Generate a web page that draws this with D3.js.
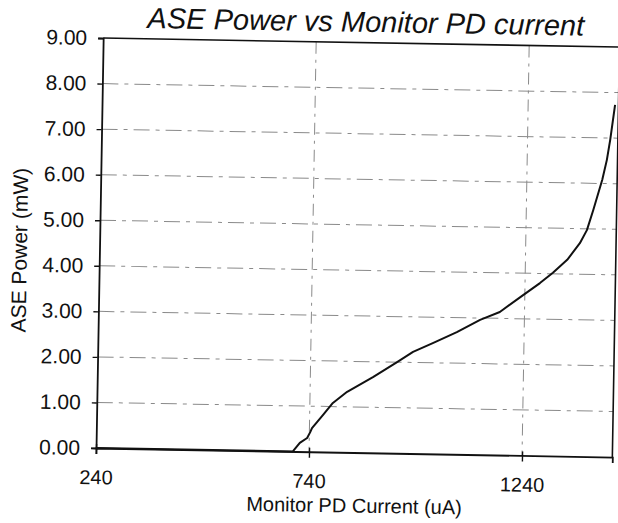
<!DOCTYPE html>
<html>
<head>
<meta charset="utf-8">
<script src="https://cdn.jsdelivr.net/npm/d3@7"></script>
<style>
  html, body { margin: 0; padding: 0; background: #fff; }
  svg { display: block; }
  text { font-family: "Liberation Sans", Arial, sans-serif; fill: #111; }
</style>
</head>
<body>
<svg id="chart" width="618" height="523"></svg>
<script>
// ---- data ----
const currentUA = [240, 702, 718, 735, 742, 746, 771, 794, 827, 887, 943, 980, 1026, 1082, 1136, 1182, 1236, 1275, 1305, 1338, 1367, 1383, 1397, 1417, 1427, 1434, 1444];
const asePowerMW = [0, 0, 0.19, 0.30, 0.43, 0.52, 0.81, 1.08, 1.33, 1.66, 2.00, 2.23, 2.43, 2.68, 2.96, 3.14, 3.52, 3.79, 4.02, 4.31, 4.68, 4.97, 5.41, 6.08, 6.52, 6.96, 7.73];
const xTicks = [240, 740, 1240];
const yTicks = [0, 1, 2, 3, 4, 5, 6, 7, 8, 9];
const xDomain = [240, 1452];
const yDomain = [0, 9];
const titleText = "ASE Power vs Monitor PD current";
const xTitle = "Monitor PD Current (uA)";
const yTitle = "ASE Power (mW)";

// ---- layout ----
const L = 99.6, R = 616, T = 42.5, B = 452.5;
const svg = d3.select("#chart");
// the reference is a slightly rotated scan
const g = svg.append("g").attr("transform", "rotate(1,355,245)");

const x = d3.scaleLinear().domain(xDomain).range([L, R]);
const y = d3.scaleLinear().domain(yDomain).range([B, T]);

// gridlines
g.append("g").selectAll("line").data(yTicks.filter(d => d > 0 && d < 9)).join("line")
  .attr("x1", L).attr("x2", R)
  .attr("y1", d => y(d)).attr("y2", d => y(d))
  .attr("stroke", "#8a8a8a").attr("stroke-width", 1)
  .attr("stroke-dasharray", "16,6,4,6");
g.append("g").selectAll("line").data(xTicks.filter(d => d > xDomain[0])).join("line")
  .attr("x1", d => x(d)).attr("x2", d => x(d))
  .attr("y1", T).attr("y2", B)
  .attr("stroke", "#8a8a8a").attr("stroke-width", 1)
  .attr("stroke-dasharray", "12,6,3,6");

// plot frame (top & right)
g.append("path")
  .attr("d", `M${L},${T}H${R}V${B}`)
  .attr("fill", "none").attr("stroke", "#111").attr("stroke-width", 1.6);

// y axis
const yAxis = d3.axisLeft(y).tickValues(yTicks).tickFormat(d3.format(".2f")).tickSize(5).tickPadding(11);
const ya = g.append("g").attr("transform", `translate(${L},0)`).call(yAxis);
ya.select(".domain").attr("stroke", "#111").attr("stroke-width", 1.8);
ya.selectAll(".tick line").attr("stroke", "#111").attr("stroke-width", 1.4);
ya.selectAll(".tick text").attr("font-size", 21).attr("fill", "#111")
  .style("font-family", '"Liberation Sans", Arial, sans-serif');

// x axis
const xAxis = d3.axisBottom(x).tickValues(xTicks).tickFormat(d3.format("d")).tickSize(6).tickPadding(16);
const xa = g.append("g").attr("transform", `translate(0,${B})`).call(xAxis);
xa.select(".domain").attr("stroke", "#111").attr("stroke-width", 1.8);
xa.selectAll(".tick line").attr("stroke", "#111").attr("stroke-width", 1.4).attr("y1", -4);
xa.selectAll(".tick text").attr("font-size", 20).attr("fill", "#111")
  .style("font-family", '"Liberation Sans", Arial, sans-serif');

// curve
const line = d3.line().x((d, i) => x(currentUA[i])).y(d => y(d));
g.append("path").datum(asePowerMW)
  .attr("d", line)
  .attr("fill", "none").attr("stroke", "#111").attr("stroke-width", 2)
  .attr("stroke-linejoin", "round");

// titles
g.append("text").attr("x", 362).attr("y", 31.7)
  .attr("text-anchor", "middle").attr("font-size", 29).attr("font-style", "italic")
  .text(titleText);
g.append("text").attr("x", 358.6).attr("y", 512.5)
  .attr("text-anchor", "middle").attr("font-size", 20)
  .text(xTitle);
g.append("text").attr("transform", "translate(27,256) rotate(-90)")
  .attr("text-anchor", "middle").attr("font-size", 21)
  .text(yTitle);
</script>
</body>
</html>
